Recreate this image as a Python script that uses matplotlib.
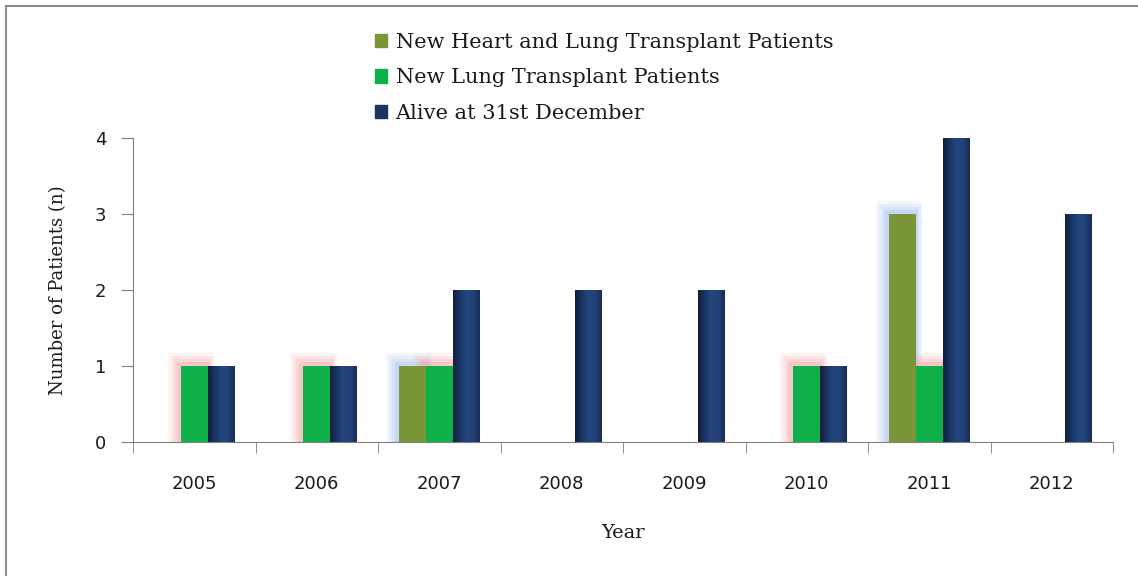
import matplotlib
matplotlib.use("Agg")
import matplotlib.pyplot as plt
from matplotlib.colors import LinearSegmentedColormap
from matplotlib.patches import Rectangle
from matplotlib.lines import Line2D
import numpy as np

years = ["2005", "2006", "2007", "2008", "2009", "2010", "2011", "2012"]
heart_lung = [0, 0, 1, 0, 0, 0, 3, 0]
lung = [1, 1, 1, 0, 0, 1, 1, 0]
alive = [1, 1, 2, 2, 2, 1, 4, 3]

plt.rcParams['font.family'] = ['DejaVu Serif']

W, H = 1138, 576
fig = plt.figure(figsize=(W / 100, H / 100), dpi=100)
ax_l, ax_r, ax_t, ax_b = 133, 1113, 138, 442
ax = fig.add_axes([ax_l / W, 1 - ax_b / H, (ax_r - ax_l) / W, (ax_b - ax_t) / H])

x = np.arange(len(years))
w = 0.22

olive = "#7b9638"
green = "#0fb04a"
navy = "#1b3564"

ax.set_xlim(-0.5, len(years) - 0.5)
ax.set_ylim(0, 4)

# pixel size in data units
px_x = len(years) / (ax_r - ax_l)
px_y = 4 / (ax_b - ax_t)


def glow(bars, color):
    # soft halo behind a bar, a few stacked translucent rectangles
    for b in bars:
        h = b.get_height()
        if h <= 0:
            continue
        bx, bw = b.get_x(), b.get_width()
        for grow, a in [(13, 0.12), (10, 0.18), (7, 0.25), (4, 0.35)]:
            r = Rectangle((bx - grow * px_x, 0), bw + 2 * grow * px_x * 0.75, h + grow * px_y,
                          facecolor=color, edgecolor="none", alpha=a, zorder=1)
            ax.add_patch(r)


b1 = ax.bar(x - w, heart_lung, w, color=olive, zorder=3)
b2 = ax.bar(x, lung, w, color=green, zorder=3)
b3 = ax.bar(x + w, alive, w, color=navy, zorder=3)

glow(b1, "#a9c6f2")
glow(b2, "#f7aaaa")

# horizontal shading on the navy bars
cmap = LinearSegmentedColormap.from_list("navy", ["#0f1f3c", "#1b3563", "#24467f", "#224278", "#182e58"])
grad = np.linspace(0, 1, 64).reshape(1, -1)
for b in b3:
    bx, bw, bh = b.get_x(), b.get_width(), b.get_height()
    im = ax.imshow(grad, cmap=cmap, aspect="auto", extent=[bx, bx + bw, 0, bh], zorder=4)
    im.set_clip_path(b)
ax.set_xlim(-0.5, len(years) - 0.5)
ax.set_ylim(0, 4)

ax.set_yticks([0, 1, 2, 3, 4])
ax.set_xticks(x)
ax.set_xticklabels(years)
ax.set_xticks(np.arange(-0.5, len(years)), minor=True)
ax.tick_params(axis="x", which="major", length=0, pad=24)
ax.tick_params(axis="x", which="minor", length=8, color="#808080")
ax.tick_params(axis="y", length=9, color="#808080", pad=10)
for lab in ax.get_xticklabels() + ax.get_yticklabels():
    lab.set_fontfamily("DejaVu Sans")
    lab.set_fontsize(13)
    lab.set_color("#1a1a1a")

for s in ["top", "right"]:
    ax.spines[s].set_visible(False)
for s in ["left", "bottom"]:
    ax.spines[s].set_color("#808080")

ax.set_xlabel("Year", fontsize=14, labelpad=22, color="#1a1a1a")
ax.set_ylabel("Number of Patients (n)", fontsize=13, labelpad=20, color="#1a1a1a")

handles = [Rectangle((0, 0), 1, 1, color=olive), Rectangle((0, 0), 1, 1, color=green),
           Rectangle((0, 0), 1, 1, color=navy)]
labels = ["New Heart and Lung Transplant Patients", "New Lung Transplant Patients", "Alive at 31st December"]
fig.legend(handles, labels, loc="upper left", bbox_to_anchor=(356 / W, 1 - 14 / H), frameon=False,
           fontsize=15, handlelength=0.6, handleheight=0.6, handletextpad=0.4, labelspacing=0.8,
           labelcolor="#1a1a1a")

# page frame, only top and left edges are visible
fig.add_artist(Line2D([6 / W, 6 / W], [0, 1 - 6 / H], transform=fig.transFigure, color="#8c8c8c", lw=1.5))
fig.add_artist(Line2D([6 / W, 1], [1 - 6 / H, 1 - 6 / H], transform=fig.transFigure, color="#8c8c8c", lw=1.5))

fig.savefig("out.png", dpi=100)
